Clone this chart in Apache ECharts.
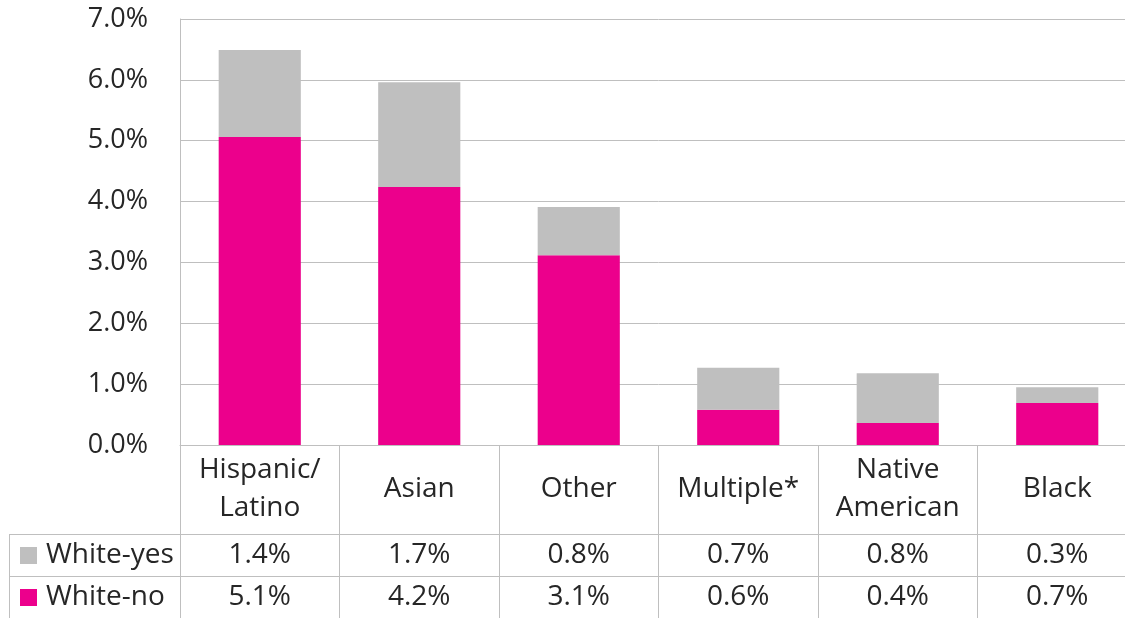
<!DOCTYPE html>
<html><head><meta charset="utf-8">
<script src="https://cdn.jsdelivr.net/npm/echarts@6/dist/echarts.min.js"></script>
<style>html,body{margin:0;padding:0;background:#fff;overflow:hidden}#c{width:1140px;height:618px}</style>
</head><body><div id="c"></div>
<script>
const categories = ['Hispanic/\nLatino', 'Asian', 'Other', 'Multiple*', 'Native\nAmerican', 'Black'];
const seriesNames = ['White-yes', 'White-no'];
const whiteYes = [1.43, 1.72, 0.79, 0.69, 0.82, 0.26];
const whiteNo = [5.06, 4.24, 3.12, 0.58, 0.36, 0.69];
const yTicks = [0, 1, 2, 3, 4, 5, 6, 7];

const FONT = '"Open Sans", sans-serif';
const TXT = '#262626';
const LINE = '#bfbfbf';
const PINK = '#ec008c';
const GRAY = '#bfbfbf';
const TS = 28;
const fmt = v => v.toFixed(1) + '%';

const chart = echarts.init(document.getElementById('c'));
const base = {
  type: 'category', data: categories, position: 'bottom', gridIndex: 0,
  axisTick: { show: false }, splitLine: { show: false }
};
const lineG = (x1, y1, x2, y2) => ({ type: 'line', silent: true, shape: { x1, y1, x2, y2 }, style: { stroke: LINE, lineWidth: 1 } });
chart.setOption({
  animation: false,
  textStyle: { fontFamily: FONT },
  grid: { left: 180, top: 19, width: 957, height: 426, containLabel: false },
  yAxis: {
    type: 'value', min: yTicks[0], max: yTicks[yTicks.length - 1], interval: 1,
    axisLine: { show: true, lineStyle: { color: LINE, width: 1 } },
    axisTick: { show: false },
    splitLine: { lineStyle: { color: LINE, width: 1 } },
    axisLabel: { formatter: v => v.toFixed(1) + '%', fontSize: 27, color: TXT, margin: 32, fontFamily: FONT }
  },
  xAxis: [
    Object.assign({}, base, {
      axisLine: { show: true, lineStyle: { color: LINE } },
      axisTick: { show: true, length: 173, lineStyle: { color: LINE } },
      axisLabel: { fontSize: TS, color: TXT, lineHeight: 38, verticalAlign: 'middle', margin: 44, fontFamily: FONT, interval: 0 }
    }),
    Object.assign({}, base, {
      offset: 89,
      axisLine: { show: true, lineStyle: { color: LINE } },
      axisLabel: { formatter: (v, i) => fmt(whiteYes[i]), fontSize: TS, color: TXT, verticalAlign: 'middle', margin: 21, fontFamily: FONT, interval: 0 }
    }),
    Object.assign({}, base, {
      offset: 131,
      axisLine: { show: true, lineStyle: { color: LINE } },
      axisLabel: { formatter: (v, i) => fmt(whiteNo[i]), fontSize: TS, color: TXT, verticalAlign: 'middle', margin: 21, fontFamily: FONT, interval: 0 }
    })
  ],
  series: [
    { name: seriesNames[1], type: 'bar', stack: 's', data: whiteNo, barWidth: '51.5%', itemStyle: { color: PINK } },
    { name: seriesNames[0], type: 'bar', stack: 's', data: whiteYes, barWidth: '51.5%', itemStyle: { color: GRAY } }
  ],
  graphic: [
    lineG(9, 534.5, 180, 534.5),
    lineG(9, 576.5, 180, 576.5),
    lineG(9.5, 534, 9.5, 618),
    { type: 'rect', silent: true, shape: { x: 20, y: 547, width: 17, height: 17 }, style: { fill: GRAY } },
    { type: 'rect', silent: true, shape: { x: 20, y: 589, width: 17, height: 17 }, style: { fill: PINK } },
    { type: 'text', silent: true, x: 46, y: 555, style: { text: seriesNames[0], font: TS + 'px ' + FONT, fill: TXT, verticalAlign: 'middle' } },
    { type: 'text', silent: true, x: 46, y: 597, style: { text: seriesNames[1], font: TS + 'px ' + FONT, fill: TXT, verticalAlign: 'middle' } }
  ]
});
</script></body></html>
